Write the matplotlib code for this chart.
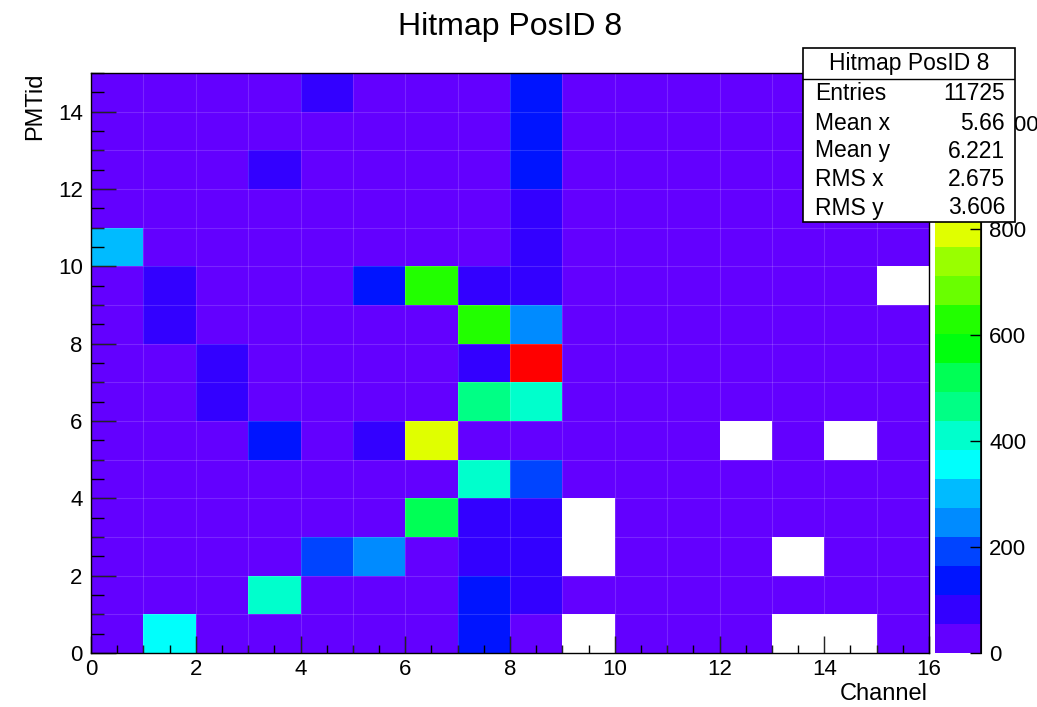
import colorsys
import numpy as np
import matplotlib
matplotlib.use("Agg")
import matplotlib.pyplot as plt
from matplotlib.colors import ListedColormap, BoundaryNorm
from matplotlib.patches import Rectangle
from matplotlib.ticker import MultipleLocator

plt.rcParams['font.family'] = ['Liberation Sans', 'DejaVu Sans']

title = "Hitmap PosID 8"
x_label = "Channel"
y_label = "PMTid"
n_channels = 16
n_pmt = 15

# counts[pmt][channel], PMTid 0 (bottom) .. 14 (top)
counts = [
    [14, 355, 12, 13, 11, 14, 12, 137, 30, 0, 12, 13, 11, 0, 0, 12],
    [13, 12, 14, 410, 13, 12, 15, 137, 82, 11, 13, 12, 14, 11, 12, 13],
    [12, 13, 12, 14, 192, 246, 14, 82, 82, 0, 12, 13, 12, 0, 11, 12],
    [13, 14, 12, 13, 12, 15, 520, 82, 82, 0, 14, 12, 13, 12, 13, 11],
    [12, 13, 14, 12, 13, 14, 16, 410, 192, 13, 12, 11, 12, 13, 12, 13],
    [13, 12, 13, 137, 14, 82, 793, 15, 16, 12, 13, 12, 0, 13, 0, 12],
    [14, 13, 82, 12, 13, 12, 14, 465, 410, 13, 12, 14, 12, 11, 13, 12],
    [12, 14, 82, 13, 12, 13, 15, 82, 1094, 14, 12, 13, 11, 12, 13, 14],
    [13, 82, 12, 14, 13, 12, 16, 629, 246, 12, 13, 12, 14, 12, 11, 13],
    [14, 82, 13, 12, 14, 137, 629, 82, 82, 13, 12, 14, 13, 12, 13, 0],
    [300, 13, 12, 14, 13, 12, 14, 15, 82, 12, 13, 12, 14, 13, 12, 13],
    [13, 12, 14, 13, 12, 14, 13, 15, 82, 13, 12, 13, 12, 14, 13, 12],
    [12, 13, 12, 82, 14, 13, 12, 14, 137, 12, 13, 14, 12, 13, 12, 13],
    [13, 14, 12, 13, 12, 14, 13, 12, 137, 13, 12, 13, 14, 12, 13, 12],
    [12, 13, 14, 12, 82, 12, 13, 14, 137, 12, 13, 12, 13, 14, 12, 13],
]

stat_labels = ["Entries", "Mean x", "Mean y", "RMS x", "RMS y"]
stat_values = ["11725", "5.66", "6.221", "2.675", "3.606"]
cbar_ticks = [0, 200, 400, 600, 800, 1000]

# ROOT "pretty" palette: 50 HLS colours violet->red, 20 contour levels
n_levels = 20
pal = []
for i in range(50):
    hue = 280 - (i + 1) * (280 / 50)
    pal.append(colorsys.hls_to_rgb(max(hue, 0) / 360.0, 0.5, 1.0))
lev_colors = [pal[int((i + 0.99) * 50 / n_levels)] for i in range(n_levels)]
cmap = ListedColormap(lev_colors)

data = np.array(counts, dtype=float)
zmax = data.max()
norm = BoundaryNorm(np.linspace(0, zmax, n_levels + 1), n_levels)
masked = np.ma.masked_where(data <= 0, data)

W, H = 1037, 707
fig = plt.figure(figsize=(W / 100, H / 100), dpi=100)

def fr(x0, y0, x1, y1):
    return [x0 / W, 1 - y1 / H, (x1 - x0) / W, (y1 - y0) / H]

ax = fig.add_axes(fr(91, 73, 929, 653))
xe = np.arange(n_channels + 1)
ye = np.arange(n_pmt + 1)
mesh = ax.pcolormesh(xe, ye, masked, cmap=cmap, norm=norm)
for x in xe[1:-1]:
    ax.axvline(x, color='white', alpha=0.15, lw=0.8)
for y in ye[1:-1]:
    ax.axhline(y, color='white', alpha=0.15, lw=0.8)
ax.set_xlim(0, n_channels)
ax.set_ylim(0, n_pmt)
ax.xaxis.set_major_locator(MultipleLocator(2))
ax.xaxis.set_minor_locator(MultipleLocator(0.5))
ax.yaxis.set_major_locator(MultipleLocator(2))
ax.yaxis.set_minor_locator(MultipleLocator(0.5))
ax.tick_params(axis='x', which='major', direction='in', length=12.5, width=1, labelsize=16, pad=4)
ax.tick_params(axis='x', which='minor', direction='in', length=6, width=1)
ax.tick_params(axis='y', which='major', direction='in', length=18, width=1, labelsize=16, pad=6)
ax.tick_params(axis='y', which='minor', direction='in', length=9, width=1)
for s in ax.spines.values():
    s.set_linewidth(1)

fig.text(510 / W, 1 - 27 / H, title, ha='center', va='center', fontsize=23)
fig.text(928 / W, 1 - 694 / H, x_label, ha='right', va='center', fontsize=17)
fig.text(35 / W, 1 - 73 / H, y_label, ha='center', va='top', rotation=90, fontsize=17)

cax = fig.add_axes(fr(935, 73, 981, 653))
cb = fig.colorbar(mesh, cax=cax)
cb.outline.set_visible(False)
cb.set_ticks(cbar_ticks)
cb.set_ticklabels([str(t) for t in cbar_ticks])
cax.minorticks_off()
cax.tick_params(axis='y', which='major', direction='in', length=8, width=1, labelsize=16, pad=6, right=True, left=False)
cax.axvline(1, color='black', lw=1.2) if False else None
cax.spines['right'].set_visible(True)
cax.plot([1, 1], [0, 1], transform=cax.transAxes, color='black', lw=1.2, clip_on=False)

# stat box
sax = fig.add_axes(fr(803, 48, 1015, 222))
sax.set_xlim(803, 1015)
sax.set_ylim(222, 48)
sax.axis('off')
sax.add_patch(Rectangle((803, 48), 212, 174, facecolor='white', edgecolor='black', lw=1.2, clip_on=False))
sax.plot([803, 1015], [79, 79], color='black', lw=1)
sax.text(909, 64, title, ha='center', va='center', fontsize=16.5)
rows_y = [94, 123, 151, 180, 208]
for lab, val, yy in zip(stat_labels, stat_values, rows_y):
    sax.text(815, yy, lab, ha='left', va='center', fontsize=16.5)
    sax.text(1005, yy, val, ha='right', va='center', fontsize=16.5)

fig.savefig("out.png", dpi=100)
